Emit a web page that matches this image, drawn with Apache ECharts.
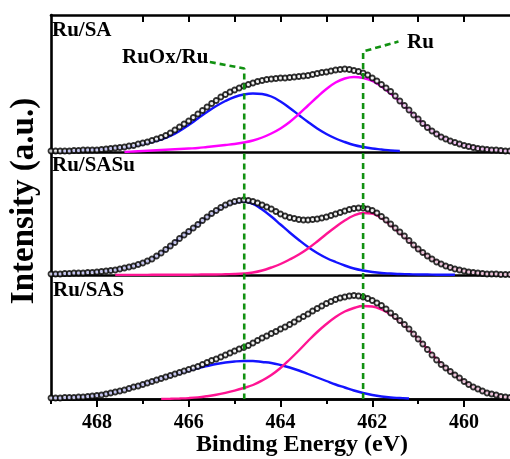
<!DOCTYPE html>
<html>
<head>
<meta charset="utf-8">
<title>Ru 3p XPS</title>
<script src="https://cdn.jsdelivr.net/npm/echarts@6/dist/echarts.min.js"></script>
<style>
html,body{margin:0;padding:0;background:#fff;}
#xps_chart{width:510px;height:459px;}
</style>
</head>
<body>
<div id="xps_chart"></div>
<script>
// binding energy of the measured points (eV)
var energy = [
	469,468.9,468.8,468.7,468.6,468.5,468.4,468.3,468.2,468.1,
	468,467.9,467.8,467.7,467.6,467.5,467.4,467.3,467.2,467.1,
	467,466.9,466.8,466.7,466.6,466.5,466.4,466.3,466.2,466.1,
	466,465.9,465.8,465.7,465.6,465.5,465.4,465.3,465.2,465.1,
	465,464.9,464.8,464.7,464.6,464.5,464.4,464.3,464.2,464.1,
	464,463.9,463.8,463.7,463.6,463.5,463.4,463.3,463.2,463.1,
	463,462.9,462.8,462.7,462.6,462.5,462.4,462.3,462.2,462.1,
	462,461.9,461.8,461.7,461.6,461.5,461.4,461.3,461.2,461.1,
	461,460.9,460.8,460.7,460.6,460.5,460.4,460.3,460.2,460.1,
	460,459.9,459.8,459.7,459.6,459.5,459.4,459.3,459.2,459.1,459
];
// energy of the fitted peaks (eV)
var energyFit = [
	469,468.8,468.6,468.4,468.2,468,467.8,467.6,467.4,467.2,
	467,466.8,466.6,466.4,466.2,466,465.8,465.6,465.4,465.2,
	465,464.8,464.6,464.4,464.2,464,463.8,463.6,463.4,463.2,
	463,462.8,462.6,462.4,462.2,462,461.8,461.6,461.4,461.2,
	461,460.8,460.6,460.4,460.2,460,459.8,459.6,459.4,459.2,459
];

var samples = ["Ru/SA", "Ru/SASu", "Ru/SAS"];

// Ru/SA
var saRaw = [
	1,1,1,1,1,1.5,1.5,2,2,2,
	2,2.5,3,3.5,4,4.5,5,6,6.5,8,
	9,10,11.5,13,14.5,16.5,19,22,25,28,
	31,34.5,38,41.5,45,48.5,51.5,55,57.5,60,
	62,64,66,67.5,69,70.5,71.5,72.5,73,73.5,
	74,74,74.5,75,75.5,76,76.5,77.5,78.5,79.5,
	80,81,82,82.5,83,82.5,81.5,80.5,79,77,
	74,71,67.5,64,60.5,56,51,46.5,42,37,
	33,28.5,24.5,21,18,15,13,11,9.5,8,
	6.5,5.5,4.5,3.5,3,2.5,2,2,1.5,1,1
];
var saOx = [
	null,0.5,1,1.5,2,2.5,3,4,4.5,6,
	8,10,12.5,16,21,27,33.5,40,46,51,
	55,57.5,58.5,58,55.5,50.5,44,37,30,23.5,
	18,13.5,10,7,5,3.5,2.5,1.5,1,null,
	null,null,null,null,null,null,null,null,null,null,null
];
var saRu = [
	null,null,null,null,null,null,null,null,0,0.5,
	1,1.5,2,2.5,3,3.5,4,5,6,7,
	8,9.5,11.5,14.5,18.5,23.5,30,38,46.5,55,
	63,69.5,73.5,75,74,71,65.5,58.5,50.5,41.5,
	33,24.5,18,13,9,6.5,4.5,3,2,1.5,1
];

// Ru/SASu
var sasuRaw = [
	1,1,1,1.5,1.5,2,2,2,2.5,2.5,
	3,3.5,4,4.5,5,6,7,8,9,10.5,
	12,14,16,19,22,25.5,29,32.5,36.5,40,
	43.5,47,50.5,54.5,58,61.5,64.5,67.5,70,72,
	73.5,74.5,75,74.5,73.5,72,70,68,66,63.5,
	61,59,57.5,56.5,55.5,55,55,55.5,56,57,
	58,59.5,61,62.5,64,65.5,66.5,67,67,66,
	64.5,62,58.5,55,51,47,43,39,34.5,30,
	26,22.5,19,16,13,11,9,7.5,6,5,
	4,3,2.5,2,1.5,1,1,1,0.5,0.5,0.5
];
var sasuOx = [
	1,1,1.5,2,2.5,3,4,5,7,9,
	12,16,22,29,36.5,43.5,50.5,58,64,69.5,
	72.5,73.5,71,65.5,58.5,50.5,42.5,35,28,22,
	17,13,9.5,6.5,4.5,3,2,1.5,1,0.8,
	0.5,0.5,0.3,0.3,0.2,null,null,null,null,null,null
];
var sasuRu = [
	null,null,null,null,null,null,null,0,0,0.1,
	0.1,0.2,0.2,0.3,0.3,0.3,0.4,0.5,0.5,0.8,
	1,1.5,2.5,4.5,7.5,11,15.5,20.5,26.5,33.5,
	41,48,54.5,59.5,62,61.5,57,50,42,34,
	25.5,19,13.5,9,6,4,2.5,1.5,1,0.5,0.5
];

// Ru/SAS
var sasRaw = [
	1,1,1,1.5,1.5,1.5,2,2,2.5,3,
	3.5,4,5,6,7,8,9,10.5,12,13,
	14.5,16,17.5,19,20.5,22,23.5,25,26.5,28,
	29.5,31,32.5,34.5,36.5,38.5,40,42,44,46,
	48,50,51.5,53.5,56,58.5,61,63,65.5,67.5,
	70,72,74.5,77,80,82.5,85,88,90.5,93,
	95.5,97.5,99.5,101,102,103,103.5,103,102,100.5,
	98.5,96,93.5,90,86,82.5,78.5,74.5,70,65,
	60,55,49.5,44,39,34.5,31,27.5,24,21,
	17.5,14.5,12,10,8,6,5,4,2.5,2,1.5
];
var sasOx = [
	1,1,1.5,2,2.5,3.5,5,7,9,12,
	14.5,17.5,20.5,23.5,26,28.5,31,33,35,36.5,
	37.5,38,38,37,36,34,31.5,28.5,25,21.5,
	18,14.5,11.5,8.5,6,4,2.5,1.5,1,0.5,
	null,null,null,null,null,null,null,null,null,null,null
];
var sasRu = [
	null,null,null,null,null,null,null,null,null,null,
	null,null,0,0.2,0.5,0.9,1.6,2.8,4.3,6.2,
	8.4,11,14,18.5,24,31,39.5,48.5,58,67,
	75,82,87.5,91,93,92.5,89.5,84.5,77.5,69.5,
	60,50,40,31,24,17.5,12,8,5,2.5,1.5
];

// guide lines to the two components: [energy, height above the bottom axis]
var guideOx = [[465.54, 337], [464.79, 330.5], [464.79, 0]];
var guideRu = [[462.2, 0], [462.2, 347.5], [461.43, 357.5]];

var majorTicks = [460, 462, 464, 466, 468];
var minorTicks = [461, 463, 465, 467, 469];
var topTicks = [460, 461, 462, 463, 464, 465, 466, 467];

function pairs(xs, ys){
	var out = [];
	for (var i = 0; i < xs.length; i++) {
		if (ys[i] !== null) out.push([xs[i], ys[i]]);
	}
	return out;
}

var serif = '"Liberation Serif","Times New Roman",serif';
var lineW = 2.6;

function xAx(grid, pos, extra){
	var a = {
		type: 'value', gridIndex: grid, position: pos,
		min: 459, max: 469, inverse: true,
		axisLine: {show: true, onZero: false, lineStyle: {color: '#000', width: lineW}},
		axisTick: {show: false},
		axisLabel: {show: false},
		splitLine: {show: false}
	};
	for (var k in extra) a[k] = extra[k];
	return a;
}

function xpsChart(){
	var myChart = echarts.init(document.getElementById('xps_chart'));
	var panelTop = [15, 152, 275];
	var panelH = [137, 123, 124];
	var grids = [];
	var yAxes = [];
	for (var p = 0; p < 3; p++) {
		grids.push({left: 51, right: -8, top: panelTop[p], height: panelH[p]});
		yAxes.push({
			type: 'value', gridIndex: p, min: 0, max: panelH[p],
			axisLine: {show: true, onZero: false, lineStyle: {color: '#000', width: lineW}},
			axisTick: {show: false}, axisLabel: {show: false}, splitLine: {show: false}
		});
	}
	// overlay for the dashed guides
	grids.push({left: 51, right: -8, top: 15, height: 384});
	yAxes.push({type: 'value', gridIndex: 3, min: 0, max: 384, show: false});

	var xAxes = [
		xAx(0, 'bottom', {}),
		xAx(0, 'top', {axisTick: {show: true, inside: true, length: 7, customValues: topTicks, lineStyle: {color: '#000', width: 2}}}),
		xAx(1, 'bottom', {}),
		xAx(2, 'bottom', {
			axisTick: {show: true, length: 8, customValues: majorTicks, lineStyle: {color: '#000', width: 2}},
			axisLabel: {show: true, customValues: majorTicks, margin: 14, color: '#000',
				fontFamily: serif, fontWeight: 'bold', fontSize: 20}
		}),
		xAx(2, 'bottom', {axisTick: {show: true, length: 5, customValues: minorTicks, lineStyle: {color: '#000', width: 2}}}),
		{type: 'value', gridIndex: 3, min: 459, max: 469, inverse: true, show: false}
	];

	var sets = [
		{raw: saRaw, ox: saOx, ru: saRu, x: 0, ruColor: '#ff00ff'},
		{raw: sasuRaw, ox: sasuOx, ru: sasuRu, x: 2, ruColor: '#ff1493'},
		{raw: sasRaw, ox: sasOx, ru: sasRu, x: 3, ruColor: '#ff1493'}
	];
	var series = [];
	sets.forEach(function(s, p){
		series.push({
			name: samples[p] + ' RuOx', type: 'line', xAxisIndex: s.x, yAxisIndex: p,
			data: pairs(energyFit, s.ox), smooth: 0.4, showSymbol: false,
			lineStyle: {color: '#1414ff', width: 2.4}, z: 3
		});
		series.push({
			name: samples[p] + ' Ru', type: 'line', xAxisIndex: s.x, yAxisIndex: p,
			data: pairs(energyFit, s.ru), smooth: 0.4, showSymbol: false,
			lineStyle: {color: s.ruColor, width: 2.4}, z: 3
		});
		series.push({
			name: samples[p], type: 'scatter', xAxisIndex: s.x, yAxisIndex: p,
			data: pairs(energy, s.raw), symbol: 'circle', symbolSize: 5,
			itemStyle: {color: '#eee', borderColor: '#000', borderWidth: 1.8}, z: 5
		});
	});
	[guideOx, guideRu].forEach(function(g){
		series.push({
			type: 'line', xAxisIndex: 5, yAxisIndex: 3, data: g, showSymbol: false,
			lineStyle: {color: '#119111', width: 2.6, type: [6, 4]}, z: 6
		});
	});

	function label(txt, x, y, size){
		return {type: 'text', x: x, y: y, z: 10,
			style: {text: txt, fill: '#000', font: 'bold ' + size + 'px ' + serif,
				textAlign: 'left', textVerticalAlign: 'middle'}};
	}

	var option = {
		animation: false,
		backgroundColor: '#fff',
		grid: grids,
		xAxis: xAxes,
		yAxis: yAxes,
		series: series,
		graphic: [
			label(samples[0], 52, 31, 21),
			label(samples[1], 52, 166, 21),
			label(samples[2], 53, 291, 21),
			label('RuOx/Ru', 122, 58, 21),
			label('Ru', 407, 43, 21),
			{type: 'text', x: 302, y: 445, z: 10,
				style: {text: 'Binding Energy (eV)', fill: '#000', font: 'bold 24px ' + serif,
					textAlign: 'center', textVerticalAlign: 'middle'}},
			{type: 'text', x: 24, y: 201, rotation: Math.PI / 2, z: 10,
				style: {text: 'Intensity (a.u.)', fill: '#000', font: 'bold 33px ' + serif,
					textAlign: 'center', textVerticalAlign: 'middle'}}
		]
	};
	myChart.setOption(option);
}

xpsChart();
</script>
</body>
</html>
